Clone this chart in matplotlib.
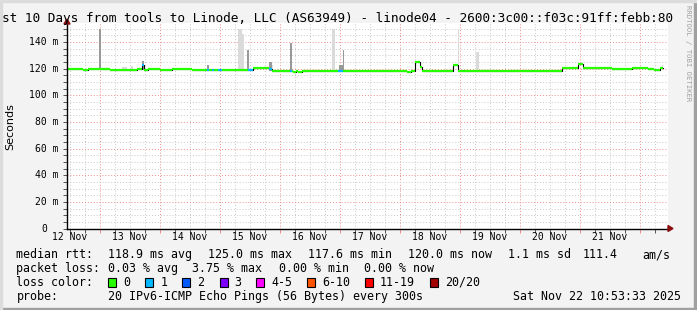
import numpy as np
import matplotlib.pyplot as plt
from matplotlib.patches import Rectangle, Polygon
from matplotlib.ticker import MultipleLocator
from matplotlib.transforms import blended_transform_factory

W, H = 697, 310
MONO = 'DejaVu Sans Mono'

# ---- data ------------------------------------------------------------
# start of the 10 day window: Nov 12 10:53:33 (x in days of November)
t0 = 12 + (10 + 53 / 60 + 33 / 3600) / 24
t_end = 238.5  # hours after start where data stops

# median rtt, piecewise (hours after start, value in ms, loss count)
med_t = [0, 6.5, 8.5, 16.5, 17.2, 26.3, 27.9, 29.9, 30.8, 32.5, 37, 42, 50,
         55.9, 56.8, 57.9, 58.8, 60.3, 62, 72.5, 74.5, 80.8, 81.8, 89.0, 90.0,
         90.5, 91.5, 92.5, 93.9, 108.5, 110.5, 135.9, 137.5, 139.2, 141.2,
         141.9, 154.5, 156.5, 197.9, 204.5, 206.5, 217.9, 225.9, 232.5, 235.0,
         237.2]
med_v = [119.5, 118.8, 119.5, 119.9, 119.2, 118.7, 119.5, 123.0, 118.7, 119.5,
         119.2, 119.5, 119.2, 119.2, 119.2, 119.2, 119.2, 118.9, 119.2, 118.7,
         120.5, 119.5, 118.2, 118.2, 118.2, 117.5, 118.0, 117.6, 118.2, 118.2,
         117.9, 117.6, 118.5, 125.0, 121.0, 118.2, 123.0, 118.2, 120.2, 123.2,
         120.2, 119.7, 120.5, 119.5, 119.2, 120.5]
med_loss = [0, 0, 0, 0, 0, 0, 0, 1, 0, 0, 0, 0, 0, 1, 0, 1, 0, 1, 0, 1, 0, 1,
            0, 1, 0, 0, 0, 0, 0, 1, 0, 0, 0, 0, 0, 0, 0, 0, 0, 0, 0, 0, 0, 0,
            0, 0]

# smoke (spread of the pings): hours from, hours to, low, high, shade
sm_t0 = [12.7, 21.9, 25.6, 29.9, 55.9, 68.5, 70.0, 71.9, 71.9, 80.8, 81.9,
         89.0, 106.0, 108.8, 110.3, 156.3, 163.6, 237.8]
sm_t1 = [13.7, 23.9, 26.2, 30.8, 56.8, 70.0, 70.8, 72.8, 72.8, 81.9, 82.5,
         90.0, 107.0, 110.4, 110.9, 156.7, 164.9, 238.5]
sm_lo = [119.5, 119.2, 119.2, 119.0, 119.2, 119.2, 119.2, 118.7, 118.7, 118.2,
         118.2, 118.2, 118.2, 118.2, 118.2, 118.2, 118.2, 120.0]
sm_hi = [150, 121.0, 121.7, 125.5, 122.5, 150, 146, 134, 123, 125, 123, 139,
         150, 123, 134, 150, 132.5, 122.5]
sm_dark = [1, 0, 0, 1, 1, 0, 0, 1, 1, 1, 0, 1, 0, 1, 1, 0, 0, 0]

y_ticks = [0, 20, 40, 60, 80, 100, 120, 140]
y_labels = ['0', '20 m', '40 m', '60 m', '80 m', '100 m', '120 m', '140 m']
day_labels = ['12 Nov', '13 Nov', '14 Nov', '15 Nov', '16 Nov', '17 Nov',
              '18 Nov', '19 Nov', '20 Nov', '21 Nov']

loss_names = ['0', '1', '2', '3', '4-5', '6-10', '11-19', '20/20']
loss_colors = ['#26ff00', '#00b8ff', '#0059ff', '#7e00ff', '#ff00ff',
               '#ff5500', '#ff0000', '#a10000']

# ---- figure ----------------------------------------------------------
fig = plt.figure(figsize=(W / 100, H / 100), dpi=100, facecolor='#f3f3f3')


def fx(x):
    return x / W


def fy(y):
    return 1 - y / H


ax_l, ax_r, ax_b, ax_t = 67, 668, 228.5, 22.7
ax = fig.add_axes([fx(ax_l), fy(ax_b), (ax_r - ax_l) / W, (ax_b - ax_t) / H])
ax.set_facecolor('white')
ax.set_xlim(t0, t0 + 601 / 60)
ax.set_ylim(0, (ax_b - ax_t) / (186.6 / 140))

ax.xaxis.set_major_locator(MultipleLocator(1))
ax.xaxis.set_minor_locator(MultipleLocator(0.25))
ax.yaxis.set_major_locator(MultipleLocator(20))
ax.yaxis.set_minor_locator(MultipleLocator(5))
ax.set_xticklabels([])
ax.set_yticklabels([])
ax.grid(which='minor', color='#c8c8c8', linestyle=(0, (1, 2)), linewidth=0.7)
ax.grid(which='major', color='#f08c8c', linestyle=(0, (1, 2)), linewidth=0.7)
ax.set_axisbelow(True)
ax.tick_params(which='both', direction='out', length=3, width=0.7,
               colors='#555555')
ax.tick_params(axis='x', which='major', colors='#f08c8c')
for s in ['top', 'right']:
    ax.spines[s].set_visible(False)
for s in ['left', 'bottom']:
    ax.spines[s].set_color('black')
    ax.spines[s].set_linewidth(1)
    ax.spines[s].set_zorder(5)

# smoke
for a, b, lo, hi, dk in zip(sm_t0, sm_t1, sm_lo, sm_hi, sm_dark):
    ax.bar(t0 + a / 24, hi - lo, width=(b - a) / 24, bottom=lo, align='edge',
           color='#999999' if dk else '#dadada', linewidth=0, zorder=2)

# median line: black steps underneath, loss coloured segments on top
xs = [t0 + t / 24 for t in med_t] + [t0 + t_end / 24]
vs = med_v + [med_v[-1]]
ax.step(xs, vs, where='post', color='black', linewidth=0.8, zorder=3)
ax.hlines(med_v, xs[:-1], xs[1:], colors=[loss_colors[l] for l in med_loss],
          linewidth=1.6, zorder=4)

# axis labels
xt = blended_transform_factory(ax.transData, ax.transAxes)
for i, lab in enumerate(day_labels):
    ax.text(12.5 + i, (ax_b - 237.5) / (ax_b - ax_t), lab, transform=xt,
            ha='center', va='center', fontsize=7, family=MONO)
yt = blended_transform_factory(ax.transAxes, ax.transData)
for v, lab in zip(y_ticks, y_labels):
    xr = 58.5 if v else 46.9
    ax.text((xr - ax_l) / (ax_r - ax_l), v, lab, transform=yt, ha='right',
            va='center', fontsize=7, family=MONO)
fig.text(fx(10), fy(127), 'Seconds', rotation=90, ha='center', va='center',
         fontsize=8)

# axis arrows
arrow_c = '#8b1010'
fig.patches.append(Polygon([(fx(668), fy(225.5)), (fx(668), fy(231.5)),
                            (fx(673), fy(228.5))], closed=True,
                           transform=fig.transFigure, color=arrow_c))
fig.patches.append(Polygon([(fx(64), fy(24)), (fx(70), fy(24)),
                            (fx(67), fy(19))], closed=True,
                           transform=fig.transFigure, color=arrow_c))

# title (the original runs over both picture edges)
fig.text(fx(2), fy(18.5),
         'st 10 Days from tools to Linode, LLC (AS63949) - linode04 - '
         '2600:3c00::f03c:91ff:febb:80',
         ha='left', va='center', fontsize=9.15, family=MONO)
fig.text(fx(688), fy(5), 'RRDTOOL / TOBI OETIKER', rotation=270, ha='center',
         va='top', fontsize=5.2, family=MONO, color='#a0a0a0')

# legend rows
fs = 8.4
rows = [
    (254.7, [(16.4, 'median rtt:'), (107.6, '118.9 ms avg'),
             (207.6, '125.0 ms max'), (308, '117.6 ms min'),
             (408, '120.0 ms now'), (507.6, '1.1 ms sd'), (583, '111.4'),
             (642, 'am/s')]),
    (268.3, [(16.4, 'packet loss:'), (107.6, '0.03 % avg'),
             (192.4, '3.75 % max'), (279, '0.00 % min'),
             (364.4, '0.00 % now')]),
    (282.2, [(16.4, 'loss color:')]),
    (296.3, [(16.4, 'probe:'),
             (107.6, '20 IPv6-ICMP Echo Pings (56 Bytes) every 300s'),
             (513.3, 'Sat Nov 22 10:53:33 2025')]),
]
for y, items in rows:
    for x, s in items:
        fig.text(fx(x), fy(y), s, ha='left', va='center', fontsize=fs,
                 family=MONO)

box_x = [108, 145.3, 182, 219.5, 256.4, 307, 365, 430]
for bx, name, col in zip(box_x, loss_names, loss_colors):
    fig.patches.append(Rectangle((fx(bx), fy(286.5)), 8 / W, 8.5 / H,
                                 transform=fig.transFigure, facecolor=col,
                                 edgecolor='black', linewidth=0.8))
    fig.text(fx(bx + 15), fy(282.2), name, ha='left', va='center',
             fontsize=fs, family=MONO)

# 3d frame around the picture
fig.patches.append(Rectangle((0, 0), 1, 2 / H, transform=fig.transFigure,
                             color='#a0a0a0', zorder=10))
fig.patches.append(Rectangle((1 - 3 / W, 0), 3 / W, 1,
                             transform=fig.transFigure, color='#a0a0a0',
                             zorder=10))
fig.patches.append(Rectangle((0, 1 - 2 / H), 1, 2 / H,
                             transform=fig.transFigure, color='#dcdcdc',
                             zorder=10))
fig.patches.append(Rectangle((0, 0), 2 / W, 1, transform=fig.transFigure,
                             color='#dcdcdc', zorder=10))

fig.savefig('out.png', dpi=100, facecolor=fig.get_facecolor())
